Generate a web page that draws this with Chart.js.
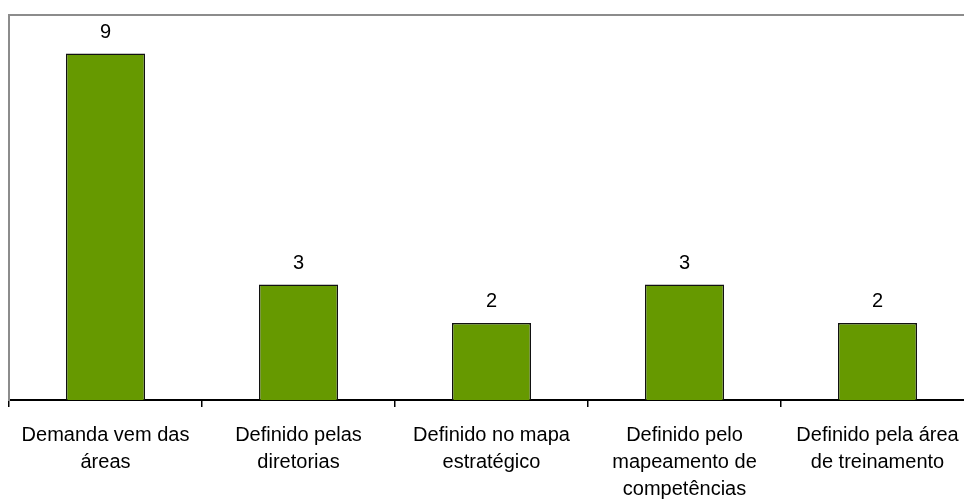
<!DOCTYPE html>
<html>
<head>
<meta charset="utf-8">
<script src="https://cdn.jsdelivr.net/npm/chart.js@4.4.1/dist/chart.umd.min.js"></script>
<style>
  html, body { margin: 0; padding: 0; background: #fff; overflow: hidden; }
  #wrap { width: 980px; height: 502px; }
</style>
</head>
<body>
<div id="wrap"><canvas id="myChart" width="980" height="502"></canvas></div>
<script>
// categorias (quebradas em linhas como no eixo)
var categorias = [
  ['Demanda vem das', 'áreas'],
  ['Definido pelas', 'diretorias'],
  ['Definido no mapa', 'estratégico'],
  ['Definido pelo', 'mapeamento de', 'competências'],
  ['Definido pela área', 'de treinamento']
];
var valores = [9, 3, 2, 3, 2];
var yMax = 10;

// escreve o valor em cima de cada barra
var rotulos = {
  id: 'rotulos',
  afterDatasetsDraw: function(chart) {
    var ctx = chart.ctx;
    var meta = chart.getDatasetMeta(0);
    ctx.save();
    ctx.fillStyle = '#000';
    ctx.font = '20px "Liberation Sans", Arial, sans-serif';
    ctx.textAlign = 'center';
    ctx.textBaseline = 'alphabetic';
    meta.data.forEach(function(bar, i) {
      ctx.fillText(String(valores[i]), bar.x, bar.y - 16);
    });
    ctx.restore();
  }
};

var myChart = document.getElementById('myChart').getContext('2d');
var chart = new Chart(myChart, {
  type: 'bar',
  data: {
    labels: categorias,
    datasets: [{
      data: valores,
      backgroundColor: '#669900',
      borderColor: '#111',
      borderWidth: 1.5,
      categoryPercentage: 1,
      barPercentage: 0.41
    }]
  },
  options: {
    responsive: false,
    animation: false,
    layout: { padding: { left: 9, top: 15, right: 6, bottom: 0 } },
    plugins: { legend: { display: false }, tooltip: { enabled: false } },
    scales: {
      x: {
        position: 'bottom',
        grid: { offset: true, drawOnChartArea: false, drawTicks: true, tickLength: 7, color: '#000', lineWidth: 1.5 },
        border: { display: true, color: '#000', width: 2 },
        ticks: {
          color: '#000',
          padding: 15,
          maxRotation: 0,
          autoSkip: false,
          font: { family: '"Liberation Sans", Arial, sans-serif', size: 20, lineHeight: 1.35 }
        },
        afterFit: function(s) { s.height = 102; }
      },
      xTopo: {
        type: 'category',
        position: 'top',
        labels: categorias,
        grid: { display: false, drawTicks: false },
        border: { display: true, color: '#8c8c8c', width: 2 },
        ticks: { display: false },
        afterFit: function(s) { s.height = 0; }
      },
      y: {
        min: 0,
        max: yMax,
        grid: { display: false, drawTicks: false },
        border: { display: true, color: '#8c8c8c', width: 2 },
        ticks: { display: false },
        afterFit: function(s) { s.width = 0; }
      }
    }
  },
  plugins: [rotulos]
});
</script>
</body>
</html>
